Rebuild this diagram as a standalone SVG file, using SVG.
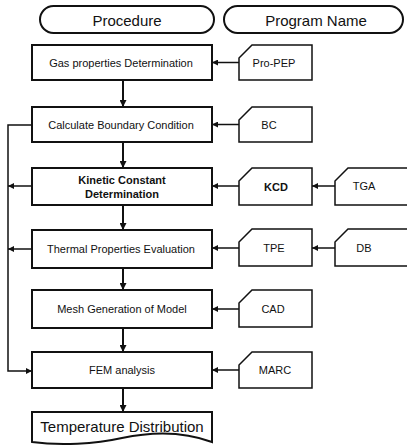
<svg xmlns="http://www.w3.org/2000/svg" width="407" height="446" viewBox="0 0 407 446">
<style>
text{font-family:"Liberation Sans",Arial,sans-serif;fill:#111;text-anchor:middle;dominant-baseline:central}
.box{fill:#fff;stroke:#111;stroke-width:2}
.card{fill:#fff;stroke:#111;stroke-width:1.5}
.t{font-size:11px}
.c{font-size:11px}
.b{font-weight:bold}
.ln{fill:none;stroke:#111;stroke-width:1.5}
.v{fill:none;stroke:#111;stroke-width:2}
</style>
<defs>
<marker id="ah" viewBox="0 0 10 10" refX="10" refY="5" markerWidth="6" markerHeight="6" markerUnits="userSpaceOnUse" orient="auto"><path d="M0,0L10,5L0,10z" fill="#111"/></marker>
<marker id="av" viewBox="0 0 10 10" refX="10" refY="5" markerWidth="7" markerHeight="7" markerUnits="userSpaceOnUse" orient="auto"><path d="M0,0L10,5L0,10z" fill="#111"/></marker>
</defs>
<g id="hdr-procedure"><rect x="40" y="6" width="174" height="27" rx="13.5" class="box" stroke-width="1.5"/><text x="127" y="20" font-size="15">Procedure</text></g>
<g id="hdr-program"><rect x="224" y="6" width="179" height="27" rx="13.5" class="box" stroke-width="1.5"/><text x="316" y="20" font-size="15">Program Name</text></g>

<g id="gas"><rect x="32" y="45" width="180" height="35" class="box"/><text x="121" y="62.5" class="t">Gas properties Determination</text></g>
<g id="bcalc"><rect x="32" y="107" width="180" height="35" class="box"/><text x="121" y="124.5" class="t">Calculate Boundary Condition</text></g>
<g id="kinetic"><rect x="32" y="168" width="180" height="37" class="box" stroke-width="2.5"/><text x="122" y="180" class="t b">Kinetic Constant</text><text x="122" y="194" class="t b">Determination</text></g>
<g id="thermal"><rect x="32" y="230" width="180" height="38" class="box"/><text x="121" y="249" class="t">Thermal Properties Evaluation</text></g>
<g id="mesh"><rect x="32" y="290" width="180" height="38" class="box"/><text x="122" y="309" class="t">Mesh Generation of Model</text></g>
<g id="fem"><rect x="32" y="352" width="180" height="36" class="box"/><text x="122" y="370" class="t">FEM analysis</text></g>
<g id="temp"><path d="M32,412H212V442C180,430 150,432 122,438C95,444 60,446 32,442Z" class="box"/><text x="122" y="426" font-size="15">Temperature Distribution</text></g>

<g id="propep"><path d="M252,45H312V80H239V58Z" class="card"/><text x="274" y="62.5" class="c">Pro-PEP</text></g>
<g id="bc"><path d="M252,107H312V142H239V120Z" class="card"/><text x="269" y="124.5" class="c">BC</text></g>
<g id="kcd"><path d="M252,168H312V205H239V181Z" class="card"/><text x="276" y="187" class="c b" font-size="12">KCD</text></g>
<g id="tga"><path d="M348,168H410V205H335V181Z" class="card"/><text x="364" y="186" class="c">TGA</text></g>
<g id="tpe"><path d="M252,229H312V266H239V242Z" class="card"/><text x="274" y="248" class="c">TPE</text></g>
<g id="db"><path d="M348,229H410V266H335V242Z" class="card"/><text x="364" y="248" class="c">DB</text></g>
<g id="cad"><path d="M252,290H312V327H239V303Z" class="card"/><text x="273" y="309" class="c">CAD</text></g>
<g id="marc"><path d="M252,352H312V388H239V365Z" class="card"/><text x="275" y="370" class="c">MARC</text></g>

<g id="connectors">
<path d="M123,80V107" class="v" marker-end="url(#av)"/>
<path d="M123,142V168" class="v" marker-end="url(#av)"/>
<path d="M123,205V230" class="v" marker-end="url(#av)"/>
<path d="M123,268V290" class="v" marker-end="url(#av)"/>
<path d="M123,328V352" class="v" marker-end="url(#av)"/>
<path d="M123,388V412" class="v" marker-end="url(#av)"/>
<path d="M239,62.5H212" class="ln" marker-end="url(#ah)"/>
<path d="M239,124.5H212" class="ln" marker-end="url(#ah)"/>
<path d="M239,186H212" class="ln" marker-end="url(#ah)"/>
<path d="M335,186H312" class="ln" marker-end="url(#ah)"/>
<path d="M239,248H212" class="ln" marker-end="url(#ah)"/>
<path d="M335,248H312" class="ln" marker-end="url(#ah)"/>
<path d="M239,309H212" class="ln" marker-end="url(#ah)"/>
<path d="M239,370H212" class="ln" marker-end="url(#ah)"/>
<path d="M32,125H8V371H32" class="ln" marker-end="url(#ah)"/>
<path d="M32,186H8" class="ln" marker-end="url(#ah)"/>
<path d="M32,249H8" class="ln" marker-end="url(#ah)"/>
</g>
</svg>
